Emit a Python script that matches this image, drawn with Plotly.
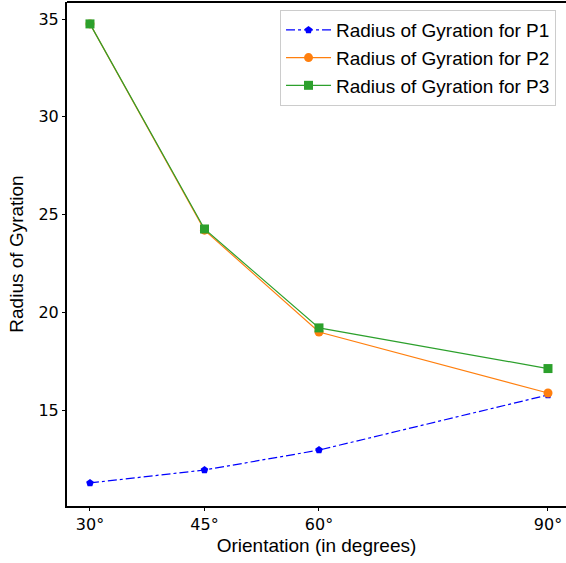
import plotly.graph_objects as go

# Orientation angles (degrees) and radius of gyration per profile
orientation = [30, 45, 60, 90]
tick_labels = ["30°", "45°", "60°", "90°"]
rg_p1 = [11.27, 11.93, 12.95, 15.77]
rg_p2 = [34.75, 24.20, 18.99, 15.87]
rg_p3 = [34.75, 24.26, 19.20, 17.12]

TICK_FONT = "DejaVu Sans"
TEXT_FONT = "Liberation Sans, Arial, sans-serif"

fig = go.Figure()
fig.add_trace(go.Scatter(
    x=orientation, y=rg_p1, mode="lines+markers", name="Radius of Gyration for P1",
    line=dict(color="#0000ff", width=1.2, dash="dashdot"),
    marker=dict(symbol="pentagon", size=8, color="#0000ff"),
))
fig.add_trace(go.Scatter(
    x=orientation, y=rg_p2, mode="lines+markers", name="Radius of Gyration for P2",
    line=dict(color="#ff7f0e", width=1.2),
    marker=dict(symbol="circle", size=9, color="#ff7f0e"),
))
fig.add_trace(go.Scatter(
    x=orientation, y=rg_p3, mode="lines+markers", name="Radius of Gyration for P3",
    line=dict(color="#2ca02c", width=1.2),
    marker=dict(symbol="square", size=9, color="#2ca02c"),
))

fig.update_layout(
    width=566, height=563,
    margin=dict(l=67, r=0, t=2, b=57),
    paper_bgcolor="white", plot_bgcolor="white",
    font=dict(family=TEXT_FONT, color="black", size=19),
    showlegend=True,
    legend=dict(
        x=0.98, y=0.984, xanchor="right", yanchor="top",
        bgcolor="white", bordercolor="#cccccc", borderwidth=1,
        font=dict(family=TEXT_FONT, size=19), itemwidth=45,
    ),
    xaxis=dict(
        range=[26.99, 92.36], tickmode="array", tickvals=orientation, ticktext=tick_labels,
        showgrid=False, zeroline=False, showline=True, linecolor="black", linewidth=2,
        ticks="outside", ticklen=3, tickwidth=1, tickcolor="black",
        tickfont=dict(family=TICK_FONT, size=16),
        title=dict(text="Orientation (in degrees)", font=dict(family=TEXT_FONT, size=19), standoff=5),
    ),
    yaxis=dict(
        range=[10.09, 35.87], tickmode="array", tickvals=[15, 20, 25, 30, 35],
        showgrid=False, zeroline=False, showline=True, linecolor="black", linewidth=2,
        ticks="outside", ticklen=3, tickwidth=1, tickcolor="black",
        tickfont=dict(family=TICK_FONT, size=16),
        title=dict(text="Radius of Gyration", font=dict(family=TEXT_FONT, size=19), standoff=10),
    ),
    shapes=[dict(type="line", xref="paper", yref="paper", x0=0, x1=1, y0=1, y1=1,
                 line=dict(color="black", width=2))],
)

fig.write_html("out.html")
